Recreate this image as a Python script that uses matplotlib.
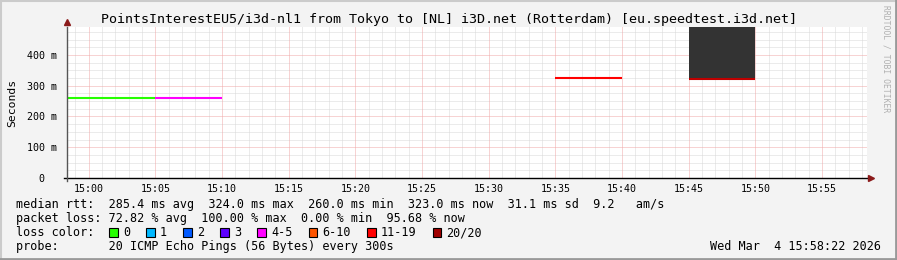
import numpy as np
import matplotlib.pyplot as plt
from matplotlib.patches import Rectangle
from matplotlib.lines import Line2D

# data: 5 minute slots, minutes relative to 15:00 (slot end)
slot_end = [0, 5, 10, 15, 20, 25, 30, 35, 40, 45, 50, 55]
median_ms = [260, 260, 260, np.nan, np.nan, np.nan, np.nan, np.nan, 324, np.nan, 323, np.nan]
lost_pings = [0, 0, 4, np.nan, np.nan, np.nan, np.nan, np.nan, 17, np.nan, 19, np.nan]
smoke_top = [np.nan] * 10 + [491, np.nan]

loss_labels = ['0', '1', '2', '3', '4-5', '6-10', '11-19', '20/20']
loss_limits = [0, 1, 2, 3, 5, 10, 19, 20]
loss_colors = ['#26ff00', '#00b8ff', '#0059ff', '#5e00ff', '#ff00ff', '#ff5500', '#ff0000', '#a00000']

x_ticks = list(range(0, 60, 5))
x_ticklabels = ['15:%02d' % m for m in x_ticks]
y_ticks = [0, 100, 200, 300, 400]
y_ticklabels = ['0  ', '100 m', '200 m', '300 m', '400 m']

title = 'PointsInterestEU5/i3d-nl1 from Tokyo to [NL] i3D.net (Rotterdam) [eu.speedtest.i3d.net]'
stat_lines = [
    'median rtt:  285.4 ms avg  324.0 ms max  260.0 ms min  323.0 ms now  31.1 ms sd  9.2   am/s',
    'packet loss: 72.82 % avg  100.00 % max  0.00 % min  95.68 % now',
    'loss color:',
    'probe:       20 ICMP Echo Pings (56 Bytes) every 300s',
]
stamp = 'Wed Mar  4 15:58:22 2026'

W, H = 897, 260
mono = 'DejaVu Sans Mono'
plt.rcParams['font.family'] = mono

fig = plt.figure(figsize=(W / 100, H / 100), dpi=100, facecolor='#f3f3f3')

def fx(px):
    return px / W

def fy(py):
    return 1 - py / H

# frame shading
fig.add_artist(Line2D([0, 1], [fy(0.5), fy(0.5)], color='#cbcbcb', lw=1.5, transform=fig.transFigure))
fig.add_artist(Line2D([fx(0.5), fx(0.5)], [0, 1], color='#cbcbcb', lw=1.5, transform=fig.transFigure))
fig.add_artist(Line2D([0, 1], [fy(H - 1), fy(H - 1)], color='#999999', lw=2, transform=fig.transFigure))
fig.add_artist(Line2D([fx(W - 1), fx(W - 1)], [0, 1], color='#999999', lw=2, transform=fig.transFigure))

x0, x1 = -1 - 38 / 60, 58 + 22 / 60
ax = fig.add_axes([fx(67), fy(178), fx(800), 151 / H])
ax.set_facecolor('white')
ax.set_xlim(x0, x1)
ax.set_ylim(0, 491)

# grid
dot = (0, (1, 1))
for m in range(-1, 59):
    if m % 5:
        ax.axvline(m, color='#d8d8d8', lw=0.72, ls=dot, zorder=1)
for v in range(25, 491, 25):
    if v % 100:
        ax.axhline(v, color='#d8d8d8', lw=0.72, ls=dot, zorder=1)
for m in x_ticks:
    ax.axvline(m, color='#f0a8a8', lw=0.72, ls=dot, zorder=1.5)
for v in y_ticks[1:]:
    ax.axhline(v, color='#f0a8a8', lw=0.72, ls=dot, zorder=1.5)

# smoke and median lines
for end, med, lost, top in zip(slot_end, median_ms, lost_pings, smoke_top):
    start = end - 5
    if not np.isnan(top):
        ax.fill_between([start, end], med, top, color='#333333', lw=0, zorder=2)
    if np.isnan(med):
        continue
    idx = next(i for i, lim in enumerate(loss_limits) if lost <= lim)
    c = loss_colors[idx]
    if not np.isnan(top):
        c = '#c00000'
    ax.hlines(med, max(start, x0), end, color=c, lw=1.5, zorder=3)

for s in ax.spines.values():
    s.set_visible(False)
ax.set_xticks(x_ticks)
ax.set_xticklabels(x_ticklabels, fontsize=7.2)
ax.set_yticks(y_ticks)
ax.set_yticklabels(y_ticklabels, fontsize=7.2)
ax.tick_params(axis='x', length=0, pad=4)
ax.tick_params(axis='y', length=0, pad=7)
ax.set_ylabel('Seconds', fontsize=8.2, labelpad=7)

# axes with arrows
ax.add_line(Line2D([-0.004, 1.002], [0, 0], color='black', lw=1, transform=ax.transAxes, clip_on=False, zorder=5))
ax.add_line(Line2D([0, 0], [-0.02, 1.0], color='#555555', lw=1, transform=ax.transAxes, clip_on=False, zorder=5))
ax.plot([1.0 + 4 / 800], [0], marker='>', ms=5, color='#8b1a1a', transform=ax.transAxes, clip_on=False, zorder=6)
ax.plot([0], [1.0 + 5 / 151], marker='^', ms=5, color='#8b1a1a', transform=ax.transAxes, clip_on=False, zorder=6)

fig.text(0.5, fy(19), title, ha='center', va='center', fontsize=9.6)
fig.text(fx(886), fy(5), 'RRDTOOL / TOBI OETIKER', rotation=-90, ha='center', va='top',
         fontsize=5.8, color='#b0b0b0')

row_y = [204.5, 218.5, 232.5, 246.5]
for txt, y in zip(stat_lines, row_y):
    fig.text(fx(16), fy(y), txt, ha='left', va='center', fontsize=8.5)
fig.text(fx(881), fy(246.5), stamp, ha='right', va='center', fontsize=8.5)

bx = 109
for lab, col in zip(loss_labels, loss_colors):
    fig.add_artist(Rectangle((fx(bx), fy(236.5)), fx(8.5), 8.5 / H, facecolor=col,
                             edgecolor='black', lw=0.8, transform=fig.transFigure))
    fig.text(fx(bx + 14), fy(232.5), lab, ha='left', va='center', fontsize=8.5)
    bx = bx + 14 + 7.1 * len(lab) + 16

fig.savefig('out.png', dpi=100, facecolor=fig.get_facecolor())
